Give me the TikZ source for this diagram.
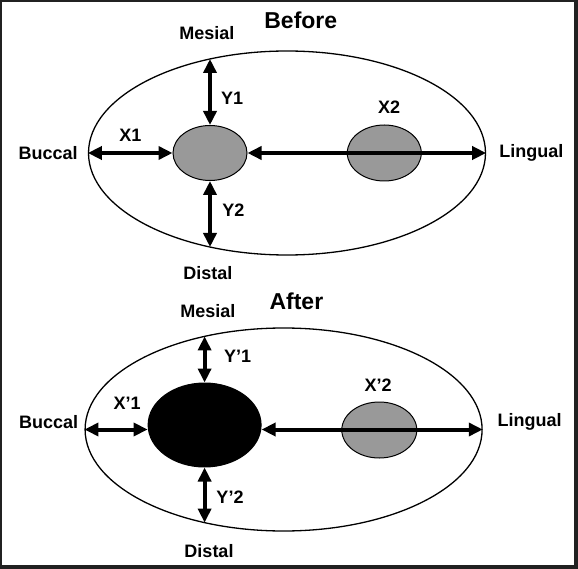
\documentclass[tikz,border=0pt]{standalone}
\usepackage{fontspec}
\setmainfont{Liberation Sans}
\usetikzlibrary{positioning, shapes.geometric, arrows.meta}
\definecolor{canalgray}{gray}{0.6}
\definecolor{framegray}{gray}{0.13}
\tikzset{
    tooth/.style = {
        draw, ellipse, line width = 1.3pt,
        minimum width = 397pt,
        minimum height = 204pt,
        inner sep = 0pt
    },
    canal/.style = {draw, ellipse, fill = canalgray, line width = 1pt, inner sep = 0pt},
    lbl/.style = {font = \bfseries\fontsize{18}{20}\selectfont, inner sep = 1pt},
    heading/.style = {font = \bfseries\fontsize{23}{26}\selectfont},
    dim/.style = {{Triangle[length=14pt,width=13pt]}-{Triangle[length=14pt,width=13pt]}, line width = 4pt}
}

\begin{document}
\begin{tikzpicture}[x=1pt, y=-1pt]

    % Frame
    \fill[framegray] (0,0) rectangle (578,569);
    \fill[white] (2,2) rectangle (574,565);
    \useasboundingbox (0,0) rectangle (578,569);

    % Before
    \node[tooth] (outerA) at (287,153) {};
    \node[canal, minimum width = 74pt, minimum height = 55pt] (leftA) at (210,153) {};
    \node[canal, minimum width = 74pt, minimum height = 56pt] (rightA) at (384.3,153) {};
    \coordinate (mesA) at (210,59);
    \coordinate (disA) at (210,247);

    \draw[dim] (outerA.west) -- (leftA.west);
    \draw[dim] (leftA.east) -- (outerA.east);
    \draw[dim] (mesA) -- (leftA.north);
    \draw[dim] (leftA.south) -- (disA);

    \node[heading] (titleA) at (300.8,20) {Before};
    \node[lbl] (mesialA) at (206.8,33) {Mesial};
    \node[lbl] (distalA) at (207.9,273) {Distal};
    \node[lbl, left = 9pt of outerA.west] (buccalA) {Buccal};
    \node[lbl, right = 12pt of outerA.east] (lingualA) {Lingual};
    \node[lbl] (yoneA) at (232.2,98) {Y1};
    \node[lbl] (ytwoA) at (233.3,210) {Y2};
    \node[lbl] (xoneA) at (130.5,135) {X1};
    \node[lbl] (xtwoA) at (389.2,107) {X2};

    % After
    \node[tooth, minimum height = 203pt] (outerB) at (283.6,429.5) {};
    \node[canal, fill = black, minimum width = 113pt, minimum height = 84pt] (leftB) at (204.6,425) {};
    \node[canal, minimum width = 75pt, minimum height = 56pt] (rightB) at (379.3,430) {};
    \coordinate (mesB) at (204.6,336.4);
    \coordinate (disB) at (204.6,522.6);

    \draw[dim] (outerB.west) -- (outerB.west -| leftB.west);
    \draw[dim] (outerB.east -| leftB.east) -- (outerB.east);
    \draw[dim] (mesB) -- (leftB.north);
    \draw[dim] (leftB.south) -- (disB);

    \node[heading] (titleB) at (296.4,301) {After};
    \node[lbl] (mesialB) at (207.9,311) {Mesial};
    \node[lbl] (distalB) at (209,551) {Distal};
    \node[lbl] (buccalB) at (48.7,422) {Buccal};
    \node[lbl] (lingualB) at (529.7,422) {Lingual};
    \node[lbl] (yoneB) at (237.7,356) {Y'1};
    \node[lbl] (ytwoB) at (230,497) {Y'2};
    \node[lbl] (xoneB) at (127.2,403) {X'1};
    \node[lbl] (xtwoB) at (378.2,385) {X'2};

\end{tikzpicture}
\end{document}
